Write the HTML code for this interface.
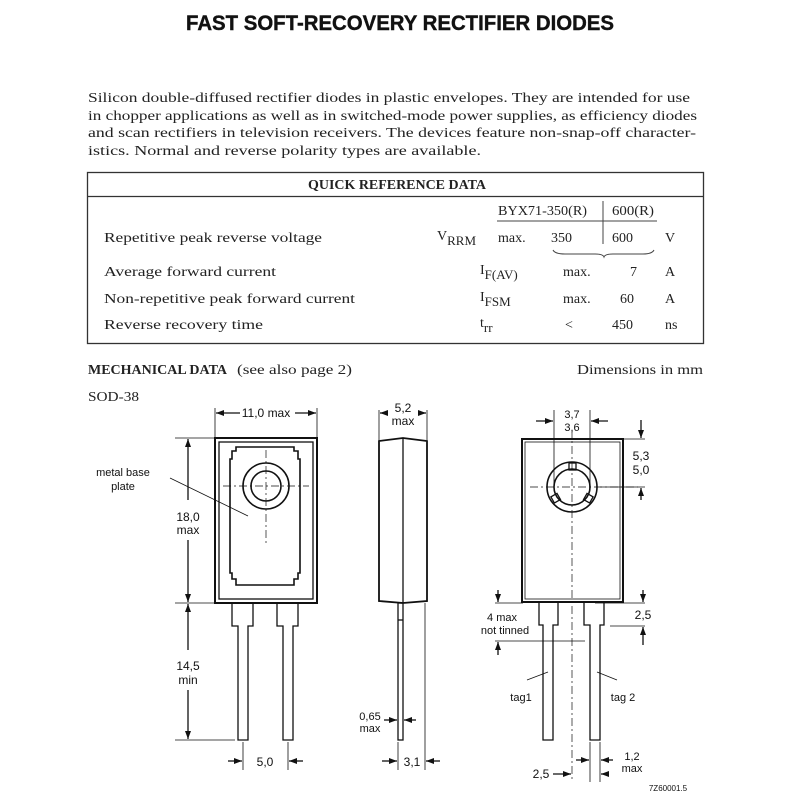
<!DOCTYPE html>
<html><head><meta charset="utf-8"><style>
html,body{margin:0;padding:0;background:#fff;}
svg{display:block;}
.s{font-family:"Liberation Serif",serif;fill:#222;}
.a{font-family:"Liberation Sans",sans-serif;fill:#111;}
</style></head><body>
<svg width="800" height="800" viewBox="0 0 800 800" xmlns="http://www.w3.org/2000/svg">
<defs>
<marker id="ar" markerWidth="8" markerHeight="6" refX="8" refY="3" orient="auto" markerUnits="userSpaceOnUse"><path d="M0,0 L8,3 L0,6 z" fill="#111"/></marker>
</defs>
<text class="a" x="400" y="30" font-size="21" font-weight="bold" text-anchor="middle" textLength="428" lengthAdjust="spacingAndGlyphs" stroke="#111" stroke-width="0.4">FAST SOFT-RECOVERY RECTIFIER DIODES</text>

<g class="s" font-size="14">
<text x="88" y="102" textLength="602" lengthAdjust="spacingAndGlyphs">Silicon double-diffused rectifier diodes in plastic envelopes. They are intended for use</text>
<text x="88" y="120" textLength="609" lengthAdjust="spacingAndGlyphs">in chopper applications as well as in switched-mode power supplies, as efficiency diodes</text>
<text x="88" y="137" textLength="608" lengthAdjust="spacingAndGlyphs">and scan rectifiers in television receivers. The devices feature non-snap-off character-</text>
<text x="88" y="155" textLength="393" lengthAdjust="spacingAndGlyphs">istics. Normal and reverse polarity types are available.</text>
</g>

<rect x="87.5" y="172.5" width="616" height="171" fill="none" stroke="#333" stroke-width="1.3"/>
<line x1="87" y1="196.5" x2="703" y2="196.5" stroke="#333" stroke-width="1.3"/>
<g class="s" font-size="14">
<text x="308" y="189" font-weight="bold" textLength="178" lengthAdjust="spacingAndGlyphs">QUICK REFERENCE DATA</text>
<text x="498" y="215" textLength="89" lengthAdjust="spacingAndGlyphs">BYX71-350(R)</text>
<text x="612" y="215" textLength="42" lengthAdjust="spacingAndGlyphs">600(R)</text>
<line x1="497" y1="221" x2="657" y2="221" stroke="#444"/>
<line x1="603" y1="201" x2="603" y2="244" stroke="#444"/>
<text x="104" y="242" textLength="218" lengthAdjust="spacingAndGlyphs">Repetitive peak reverse voltage</text>
<text x="437" y="240">V<tspan font-size="13" dy="5">RRM</tspan></text>
<text x="498" y="242">max.</text><text x="551" y="242">350</text><text x="612" y="242">600</text><text x="665" y="242">V</text>
<path d="M553,250 q2,4 12,4 h30 q8,0 9,3 q1,-3 9,-3 h30 q9,0 11,-4" fill="none" stroke="#444"/>
<text x="104" y="276" textLength="172" lengthAdjust="spacingAndGlyphs">Average forward current</text>
<text x="480" y="274">I<tspan font-size="13" dy="5">F(AV)</tspan></text>
<text x="563" y="276">max.</text><text x="630" y="276">7</text><text x="665" y="276">A</text>
<text x="104" y="303" textLength="251" lengthAdjust="spacingAndGlyphs">Non-repetitive peak forward current</text>
<text x="480" y="301">I<tspan font-size="13" dy="5">FSM</tspan></text>
<text x="563" y="303">max.</text><text x="620" y="303">60</text><text x="665" y="303">A</text>
<text x="104" y="329" textLength="159" lengthAdjust="spacingAndGlyphs">Reverse recovery time</text>
<text x="480" y="327">t<tspan font-size="13" dy="5">rr</tspan></text>
<text x="565" y="329">&lt;</text><text x="612" y="329">450</text><text x="665" y="329">ns</text>
<text x="88" y="374" font-weight="bold" textLength="139" lengthAdjust="spacingAndGlyphs">MECHANICAL DATA</text>
<text x="237" y="374" textLength="115" lengthAdjust="spacingAndGlyphs">(see also page 2)</text>
<text x="577" y="374" textLength="126" lengthAdjust="spacingAndGlyphs">Dimensions in mm</text>
<text x="88" y="401" textLength="51" lengthAdjust="spacingAndGlyphs">SOD-38</text>
</g>

<g fill="none" stroke="#111" stroke-width="1.3">
<!-- front view -->
<rect x="215" y="438" width="102" height="165" stroke-width="2"/>
<rect x="219" y="442" width="94" height="157"/>
<path d="M236,447 h58 v4 h4 v8 h2 v114 h-2 v6 h-4 v6 h-58 v-6 h-4 v-6 h-2 v-114 h2 v-8 h4z" stroke-width="1.6"/>
<circle cx="266" cy="486" r="23" stroke-width="1.6"/>
<circle cx="266" cy="486" r="15" stroke-width="1.6"/>
<path d="M223,486 h86 M266,450 v94" stroke-width="0.7" stroke-dasharray="8,3,2,3"/>
<path d="M232,603 v23 h6 v114 h10 v-114 h5 v-23"/>
<path d="M277,603 v23 h6 v114 h10 v-114 h5 v-23"/>
<path d="M175,438 h40 M175,603 h57 M175,740 h60 M215,408 v30 M317,408 v30 M243,742 v28 M288,742 v28" stroke-width="0.8"/>
<line x1="240" y1="413" x2="216" y2="413" marker-end="url(#ar)"/>
<line x1="295" y1="413" x2="316" y2="413" marker-end="url(#ar)"/>
<line x1="188" y1="500" x2="188" y2="439" marker-end="url(#ar)"/>
<line x1="188" y1="540" x2="188" y2="602" marker-end="url(#ar)"/>
<line x1="188" y1="650" x2="188" y2="604" marker-end="url(#ar)"/>
<line x1="188" y1="690" x2="188" y2="739" marker-end="url(#ar)"/>
<line x1="228" y1="761" x2="242" y2="761" marker-end="url(#ar)"/>
<line x1="303" y1="761" x2="289" y2="761" marker-end="url(#ar)"/>
<line x1="170" y1="478" x2="248" y2="516" stroke-width="0.8"/>
<!-- side view -->
<path d="M379,441 L403,438 L427,441 V601 L403,603 L379,601 Z" stroke-width="1.8"/>
<line x1="403" y1="438" x2="403" y2="603"/>
<rect x="398" y="603" width="5" height="137"/>
<line x1="398" y1="620" x2="403" y2="620"/>
<path d="M379,410 v30 M427,410 v30 M398,742 v28 M425,603 v167" stroke-width="0.8"/>
<line x1="385" y1="413" x2="380" y2="413" marker-end="url(#ar)"/>
<line x1="421" y1="413" x2="426" y2="413" marker-end="url(#ar)"/>
<line x1="384" y1="720" x2="397" y2="720" marker-end="url(#ar)"/>
<line x1="416" y1="720" x2="404" y2="720" marker-end="url(#ar)"/>
<line x1="382" y1="761" x2="397" y2="761" marker-end="url(#ar)"/>
<line x1="440" y1="761" x2="426" y2="761" marker-end="url(#ar)"/>
<!-- back view -->
<rect x="522" y="439" width="101" height="163" stroke-width="2"/>
<rect x="525" y="442" width="95" height="157" stroke-width="0.8"/>
<circle cx="572" cy="487" r="25" stroke-width="1.6"/>
<circle cx="572" cy="487" r="18" stroke-width="1.6"/>
<rect x="569" y="463" width="7" height="7"/>
<rect x="552" y="495" width="7" height="7" transform="rotate(-30 555 498)"/>
<rect x="585" y="495" width="7" height="7" transform="rotate(30 589 498)"/>
<path d="M572,430 v350 M530,487 h108" stroke-width="0.7" stroke-dasharray="8,3,2,3"/>
<path d="M539,602 v23 h4 v115 h10 v-115 h5 v-23"/>
<path d="M584,602 v23 h6 v115 h10 v-115 h4 v-23"/>
<path d="M554,410 v76 M590,410 v76 M623,439 h22 M600,487 h45 M495,603 h28 M595,603 h50 M495,641 h90 M610,626 h35 M590,742 v40 M600,742 v40" stroke-width="0.8"/>
<line x1="536" y1="421" x2="553" y2="421" marker-end="url(#ar)"/>
<line x1="608" y1="421" x2="591" y2="421" marker-end="url(#ar)"/>
<line x1="641" y1="420" x2="641" y2="438" marker-end="url(#ar)"/>
<line x1="641" y1="500" x2="641" y2="488" marker-end="url(#ar)"/>
<line x1="498" y1="590" x2="498" y2="602" marker-end="url(#ar)"/>
<line x1="498" y1="655" x2="498" y2="642" marker-end="url(#ar)"/>
<line x1="643" y1="590" x2="643" y2="602" marker-end="url(#ar)"/>
<line x1="643" y1="645" x2="643" y2="627" marker-end="url(#ar)"/>
<line x1="553" y1="774" x2="571" y2="774" marker-end="url(#ar)"/>
<line x1="576" y1="760" x2="589" y2="760" marker-end="url(#ar)"/>
<line x1="613" y1="760" x2="601" y2="760" marker-end="url(#ar)"/>
<line x1="609" y1="774" x2="601" y2="774" marker-end="url(#ar)"/>
<line x1="527" y1="680" x2="548" y2="672" stroke-width="0.8"/>
<line x1="617" y1="680" x2="597" y2="672" stroke-width="0.8"/>
</g>

<g class="a" font-size="11">
<text x="266" y="417" text-anchor="middle" font-size="12">11,0 max</text>
<text x="123" y="476" text-anchor="middle">metal base</text>
<text x="123" y="490" text-anchor="middle">plate</text>
<text x="188" y="521" text-anchor="middle" font-size="12" stroke="#fff" stroke-width="3" paint-order="stroke">18,0</text>
<text x="188" y="534" text-anchor="middle" font-size="12" stroke="#fff" stroke-width="3" paint-order="stroke">max</text>
<text x="188" y="670" text-anchor="middle" font-size="12" stroke="#fff" stroke-width="3" paint-order="stroke">14,5</text>
<text x="188" y="684" text-anchor="middle" font-size="12" stroke="#fff" stroke-width="3" paint-order="stroke">min</text>
<text x="265" y="766" text-anchor="middle" font-size="12">5,0</text>
<text x="403" y="412" text-anchor="middle" font-size="12">5,2</text>
<text x="403" y="425" text-anchor="middle" font-size="12">max</text>
<text x="370" y="720" text-anchor="middle">0,65</text>
<text x="370" y="732" text-anchor="middle">max</text>
<text x="412" y="766" text-anchor="middle" font-size="12">3,1</text>
<text x="572" y="418" text-anchor="middle">3,7</text>
<text x="572" y="431" text-anchor="middle">3,6</text>
<text x="641" y="460" text-anchor="middle" font-size="12">5,3</text>
<text x="641" y="474" text-anchor="middle" font-size="12">5,0</text>
<text x="502" y="621" text-anchor="middle">4 max</text>
<text x="505" y="634" text-anchor="middle">not tinned</text>
<text x="643" y="619" text-anchor="middle" font-size="12">2,5</text>
<text x="521" y="701" text-anchor="middle">tag1</text>
<text x="623" y="701" text-anchor="middle">tag 2</text>
<text x="541" y="778" text-anchor="middle" font-size="12">2,5</text>
<text x="632" y="760" text-anchor="middle">1,2</text>
<text x="632" y="772" text-anchor="middle">max</text>
<text x="668" y="791" text-anchor="middle" font-size="8">7Z60001.5</text>
</g>
</svg>
</body></html>
